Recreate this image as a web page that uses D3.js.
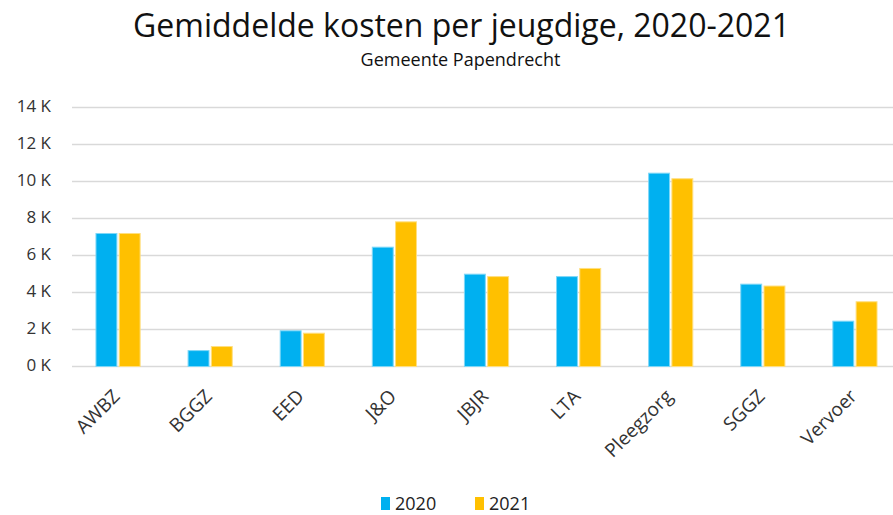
<!DOCTYPE html>
<html>
<head>
<meta charset="utf-8">
<script src="https://cdn.jsdelivr.net/npm/d3@7"></script>
<style>
  body { margin: 0; background: #fff; }
  svg { display: block; font-family: "Open Sans", "Noto Sans", sans-serif; }
</style>
</head>
<body>
<svg id="chart" width="893" height="515"></svg>
<script>
const categories = ["AWBZ", "BGGZ", "EED", "J&O", "JBJR", "LTA", "Pleegzorg", "SGGZ", "Vervoer"];
const years = ["2020", "2021"];
const values2020 = [7190, 860, 1930, 6450, 4990, 4860, 10450, 4450, 2450];
const values2021 = [7190, 1080, 1800, 7820, 4860, 5300, 10150, 4350, 3500];
const yTicks = [0, 2000, 4000, 6000, 8000, 10000, 12000, 14000];
const colors = { "2020": "#00B0F0", "2021": "#FFC000" };

const width = 893;
const height = 515;
const margin = { top: 107.5, right: -8, bottom: 148.5, left: 72 };

const svg = d3.select("#chart");

const rows = categories.map((c, i) => ({ cat: c, "2020": values2020[i], "2021": values2021[i] }));

const x = d3.scaleBand()
  .domain(categories)
  .range([margin.left, width - margin.right])
  .paddingInner(0.47)
  .paddingOuter(0.235);

const xSub = d3.scaleBand()
  .domain(years)
  .range([0, x.bandwidth()])
  .padding(0.1);

const y = d3.scaleLinear()
  .domain([0, 14000])
  .range([height - margin.bottom, margin.top]);

// gridlines
svg.append("g")
  .selectAll("line")
  .data(yTicks)
  .join("line")
  .attr("x1", margin.left)
  .attr("x2", width - margin.right)
  .attr("y1", (d) => y(d))
  .attr("y2", (d) => y(d))
  .attr("stroke", "#d9d9d9")
  .attr("stroke-width", 1.5);

// y tick labels
svg.append("g")
  .selectAll("text")
  .data(yTicks)
  .join("text")
  .attr("x", 51)
  .attr("y", (d) => y(d) - 1)
  .attr("dy", "0.35em")
  .attr("text-anchor", "end")
  .attr("font-size", 17)
  .attr("fill", "#333")
  .text((d) => d / 1000 + " K");

// bars
svg.append("g")
  .selectAll("g")
  .data(rows)
  .join("g")
  .attr("transform", (d) => `translate(${x(d.cat)},0)`)
  .selectAll("rect")
  .data((d) => years.map((yr) => ({ yr, v: d[yr] })))
  .join("rect")
  .attr("x", (d) => xSub(d.yr))
  .attr("width", xSub.bandwidth())
  .attr("y", (d) => y(d.v))
  .attr("height", (d) => y(0) - y(d.v))
  .attr("fill", (d) => colors[d.yr])
  .attr("stroke", (d) => (d.yr === "2020" ? "#7fd7f7" : "#ffdf80"))
  .attr("stroke-width", 1);

// x labels, rotated
svg.append("g")
  .selectAll("text")
  .data(categories)
  .join("text")
  .attr("transform", (d) => `translate(${x(d) + x.bandwidth() / 2 + 3},${y(0) + 31}) rotate(-45)`)
  .attr("text-anchor", "end")
  .attr("font-size", 19)
  .attr("fill", "#333")
  .text((d) => d);

// title
svg.append("text")
  .attr("x", 461.5)
  .attr("y", 37)
  .attr("text-anchor", "middle")
  .attr("font-size", 32)
  .attr("fill", "#111")
  .text("Gemiddelde kosten per jeugdige, 2020-2021");

svg.append("text")
  .attr("x", 460.5)
  .attr("y", 66)
  .attr("text-anchor", "middle")
  .attr("font-size", 18)
  .attr("fill", "#111")
  .text("Gemeente Papendrecht");

// legend
const legend = svg.append("g")
  .selectAll("g")
  .data(years)
  .join("g")
  .attr("transform", (d, i) => `translate(${381 + i * 94},497)`);

legend.append("rect")
  .attr("width", 9)
  .attr("height", 13)
  .attr("fill", (d) => colors[d]);

legend.append("text")
  .attr("x", 14)
  .attr("y", 7)
  .attr("dy", "0.35em")
  .attr("font-size", 18)
  .attr("fill", "#222")
  .text((d) => d);
</script>
</body>
</html>
